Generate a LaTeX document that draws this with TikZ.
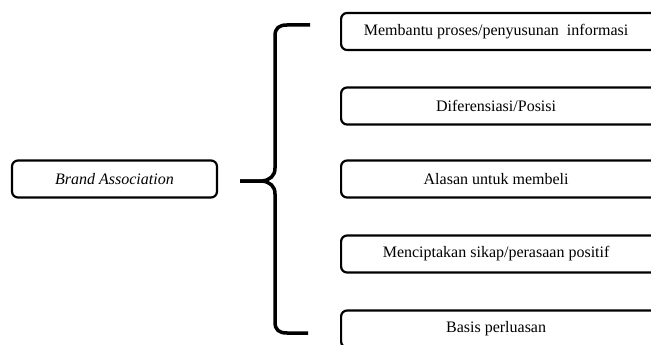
\documentclass[tikz,border=0pt]{standalone}
\usepackage{fontspec}
\setmainfont{Liberation Serif}
\begin{document}
\begin{tikzpicture}[x=1pt,y=-1pt,
  itembox/.style={draw=black, line width=2.2pt, rounded corners=6pt, minimum width=325pt, minimum height=37pt, inner sep=0pt, font=\fontsize{16}{19}\selectfont, anchor=west},
  mainbox/.style={draw=black, line width=2.2pt, rounded corners=6pt, minimum width=205pt, minimum height=37pt, inner sep=0pt, font=\fontsize{16}{19}\selectfont\itshape},
  bracestyle/.style={line width=3.5pt, line cap=butt, line join=round}]
\clip (0,0) rectangle (651,345);
\fill[white] (0,0) rectangle (651,345);
\node[mainbox] (ba) at (114.5,179) {Brand Association};
\node[itembox] (i1) at (340,31.5) {\hspace*{-15pt}Membantu proses/penyusunan\ \ informasi};
\node[itembox] (i2) at (340,106) {\hspace*{-15pt}Diferensiasi/Posisi};
\node[itembox] (i3) at (340,179) {\hspace*{-15pt}Alasan untuk membeli};
\node[itembox] (i4) at (340,254) {\hspace*{-15pt}Menciptakan sikap/perasaan positif};
\node[itembox] (i5) at (340,329) {\hspace*{-15pt}Basis perluasan};
\coordinate (tip) at (240,181);
\coordinate (btop) at (310,25);
\coordinate (bbot) at (308,333);
\draw[bracestyle] (btop) -- (287,25) .. controls (279,25) and (275,28) .. (275,36)
  -- (275,168) .. controls (275,176) and (270,180) .. (262,181) -- (tip);
\draw[bracestyle] (tip) -- (262,181) .. controls (270,182) and (275,186) .. (275,194)
  -- (275,322) .. controls (275,330) and (279,333) .. (287,333) -- (bbot);
\end{tikzpicture}
\end{document}
